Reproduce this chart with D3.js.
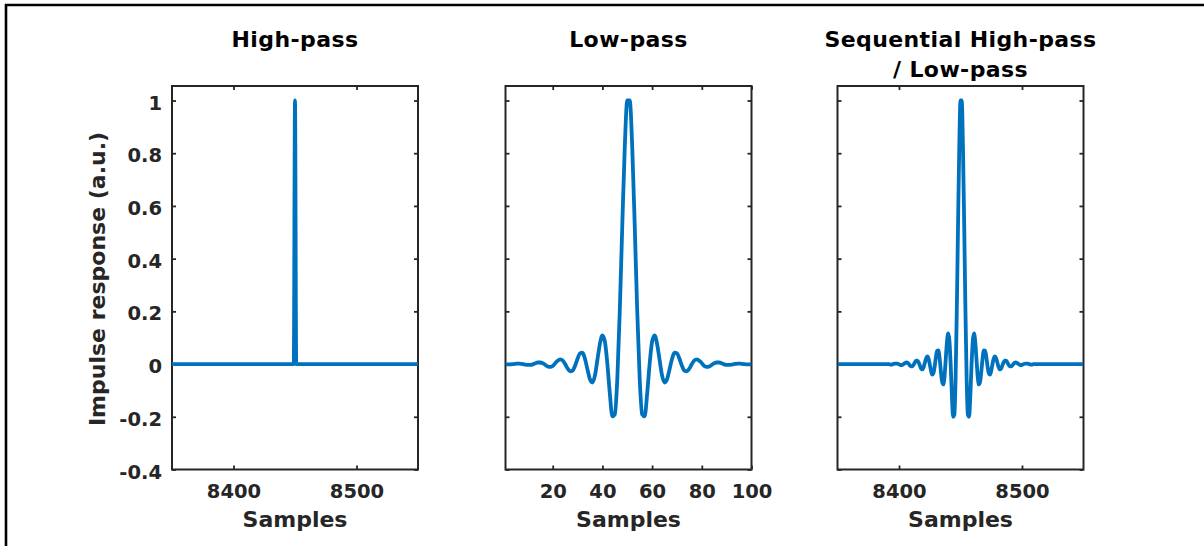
<!DOCTYPE html>
<html><head><meta charset="utf-8">
<script src="https://cdn.jsdelivr.net/npm/d3@7"></script>
<style>
html,body{margin:0;padding:0;background:#fff;}
svg{display:block;}
</style></head><body>
<svg id="chart" width="1204" height="546"></svg>
<script>
// ---------------- data ----------------
const hpSamples = [8350, 8449, 8450, 8451, 8550];
const hpValues  = [0, 0, 1, 0, 0];

const lpFirstSample = 1;
const lpValues = [
 -0.001, -0.001, -0.001, 0.000, 0.001, 0.002, 0.001, 0.000, -0.002, -0.003,
 -0.003, -0.001, 0.003, 0.006, 0.006, 0.003, -0.003, -0.009, -0.011, -0.007,
 0.003, 0.013, 0.018, 0.014, 0.000, -0.017, -0.028, -0.025, -0.006, 0.020,
 0.041, 0.043, 0.019, -0.021, -0.058, -0.070, -0.043, 0.017, 0.077, 0.109,
 0.085, 0.000, -0.113, -0.198, -0.191, -0.055, 0.204, 0.527, 0.823, 1.000,
 1.000, 0.823, 0.527, 0.204, -0.055, -0.191, -0.198, -0.113, 0.000, 0.085,
 0.109, 0.077, 0.017, -0.043, -0.070, -0.058, -0.021, 0.019, 0.043, 0.041,
 0.020, -0.006, -0.025, -0.028, -0.017, 0.000, 0.014, 0.018, 0.013, 0.003,
 -0.007, -0.011, -0.009, -0.003, 0.003, 0.006, 0.006, 0.003, -0.001, -0.003,
 -0.003, -0.002, 0.000, 0.001, 0.002, 0.001, 0.000, -0.001, -0.001, -0.001
];

const seqFirstSample = 8350;
const seqValues = [
 0,0,0,0,0,0,0,0,0,0, 0,0,0,0,0,0,0,0,0,0, 0,0,0,0,0,0,0,0,0,0, 0,0,0,0,0,0,0,0,0,0, 0,0,0,
 -0.002, -0.002, 0.000, 0.001, 0.002, 0.002, 0.001, -0.001, -0.003, -0.004,
 -0.002, 0.001, 0.004, 0.006, 0.005, 0.000, -0.006, -0.009, -0.008, -0.002,
 0.007, 0.013, 0.013, 0.006, -0.006, -0.017, -0.020, -0.012, 0.005, 0.021,
 0.029, 0.021, 0.000, -0.025, -0.040, -0.034, -0.009, 0.026, 0.051, 0.052,
 0.023, -0.025, -0.066, -0.077, -0.048, 0.018, 0.084, 0.116, 0.088, 0.000,
 -0.118, -0.200, -0.193, -0.056, 0.206, 0.530, 0.825, 1.000,
 1.000, 0.825, 0.530, 0.206, -0.056, -0.193, -0.200, -0.118,
 0.000, 0.088, 0.116, 0.084, 0.018, -0.048, -0.077, -0.066, -0.025, 0.023,
 0.052, 0.051, 0.026, -0.009, -0.034, -0.040, -0.025, 0.000, 0.021, 0.029,
 0.021, 0.005, -0.012, -0.020, -0.017, -0.006, 0.006, 0.013, 0.013, 0.007,
 -0.002, -0.008, -0.009, -0.006, 0.000, 0.005, 0.006, 0.004, 0.001, -0.002,
 -0.004, -0.003, -0.001, 0.001, 0.002, 0.002, 0.001, 0.000, -0.002, -0.002,
 0,0,0,0,0,0,0,0,0,0, 0,0,0,0,0,0,0,0,0,0, 0,0,0,0,0,0,0,0,0,0, 0,0,0,0,0,0,0,0,0,0, 0,0
];

const panelTitles = [["High-pass"], ["Low-pass"], ["Sequential High-pass", "/ Low-pass"]];
const xDomains = [[8350, 8550], [1, 100], [8350, 8550]];
const xTickValues = [[8400, 8500], [20, 40, 60, 80, 100], [8400, 8500]];
const yDomain = [-0.4, 1.055];
const yTickValues = [-0.4, -0.2, 0, 0.2, 0.4, 0.6, 0.8, 1];
const yTickLabels = ["-0.4", "-0.2", "0", "0.2", "0.4", "0.6", "0.8", "1"];
const xLabelText = "Samples";
const yLabelText = "Impulse response (a.u.)";

// ---------------- layout ----------------
const svg = d3.select("#chart");
const FONT = "'DejaVu Sans', sans-serif";
const AX = "#262626";
const LINE = "#0072BD";
const plotW = 246, plotTop = 86, plotBottom = 469.5;
const lefts = [172, 505.5, 837.5];
const tickLen = 4;

// figure border (top and left)
svg.append("line").attr("x1", 5).attr("x2", 1204).attr("y1", 5).attr("y2", 5)
  .attr("stroke", "#000").attr("stroke-width", 2.6);
svg.append("line").attr("x1", 6).attr("x2", 6).attr("y1", 4).attr("y2", 546)
  .attr("stroke", "#000").attr("stroke-width", 2.6);

const y = d3.scaleLinear().domain(yDomain).range([plotBottom, plotTop]);

const series = [
  {samples: hpSamples, values: hpValues},
  {samples: lpValues.map((_, i) => lpFirstSample + i), values: lpValues},
  {samples: seqValues.map((_, i) => seqFirstSample + i), values: seqValues}
];

const defs = svg.append("defs");

series.forEach((s, p) => {
  const left = lefts[p], right = left + plotW;
  const x = d3.scaleLinear().domain(xDomains[p]).range([left, right]);
  const g = svg.append("g");

  defs.append("clipPath").attr("id", "clip" + p)
    .append("rect").attr("x", left).attr("y", plotTop)
    .attr("width", plotW).attr("height", plotBottom - plotTop);

  // frame
  g.append("rect").attr("x", left).attr("y", plotTop)
    .attr("width", plotW).attr("height", plotBottom - plotTop)
    .attr("fill", "none").attr("stroke", AX).attr("stroke-width", 2);

  const styleAxis = sel => {
    sel.attr("font-family", FONT).attr("font-size", 19.5).attr("font-weight", "bold")
       .attr("color", AX);
    sel.select(".domain").remove();
    sel.selectAll(".tick line").attr("stroke-width", 1.8);
    sel.selectAll(".tick text").attr("fill", AX);
  };

  g.append("g").attr("transform", `translate(0,${plotBottom})`)
    .call(d3.axisBottom(x).tickValues(xTickValues[p]).tickSizeInner(-tickLen).tickSizeOuter(0)
      .tickPadding(0).tickFormat(d3.format("d")))
    .call(styleAxis)
    .call(a => a.selectAll(".tick text").attr("y", 28.5).attr("dy", null));
  g.append("g").attr("transform", `translate(0,${plotTop})`)
    .call(d3.axisTop(x).tickValues(xTickValues[p]).tickSizeInner(-tickLen).tickSizeOuter(0).tickFormat(""))
    .call(styleAxis);
  g.append("g").attr("transform", `translate(${left},0)`)
    .call(d3.axisLeft(y).tickValues(yTickValues).tickSizeInner(-tickLen).tickSizeOuter(0)
      .tickPadding(10).tickFormat(p === 0 ? ((d, i) => yTickLabels[i]) : ""))
    .call(styleAxis)
    .call(a => a.selectAll(".tick text").attr("dy", "0.44em"));
  g.append("g").attr("transform", `translate(${right},0)`)
    .call(d3.axisRight(y).tickValues(yTickValues).tickSizeInner(-tickLen).tickSizeOuter(0).tickFormat(""))
    .call(styleAxis);

  // data line
  const pts = s.samples.map((sx, i) => [sx, s.values[i]]);
  g.append("path").datum(pts)
    .attr("clip-path", `url(#clip${p})`)
    .attr("d", d3.line().curve(d3.curveMonotoneX).x(d => x(d[0])).y(d => y(d[1])))
    .attr("fill", "none").attr("stroke", LINE).attr("stroke-width", 3.8)
    .attr("stroke-linejoin", "round");

  const cx = (left + right) / 2;
  panelTitles[p].forEach((t, i) => {
    g.append("text").attr("x", cx).attr("y", 46.5 + i * 30)
      .attr("text-anchor", "middle").attr("font-family", FONT)
      .attr("font-weight", "bold").attr("font-size", 22).attr("letter-spacing", 0.4)
      .attr("fill", "#000").text(t);
  });

  g.append("text").attr("x", cx).attr("y", 526.5)
    .attr("text-anchor", "middle").attr("font-family", FONT)
    .attr("font-weight", "bold").attr("font-size", 22).attr("fill", AX).text(xLabelText);

  if (p === 0) {
    g.append("text").attr("transform", `translate(105,279) rotate(-90)`)
      .attr("text-anchor", "middle").attr("font-family", FONT)
      .attr("font-weight", "bold").attr("font-size", 22).attr("fill", AX).text(yLabelText);
  }
});
</script>
</body></html>
